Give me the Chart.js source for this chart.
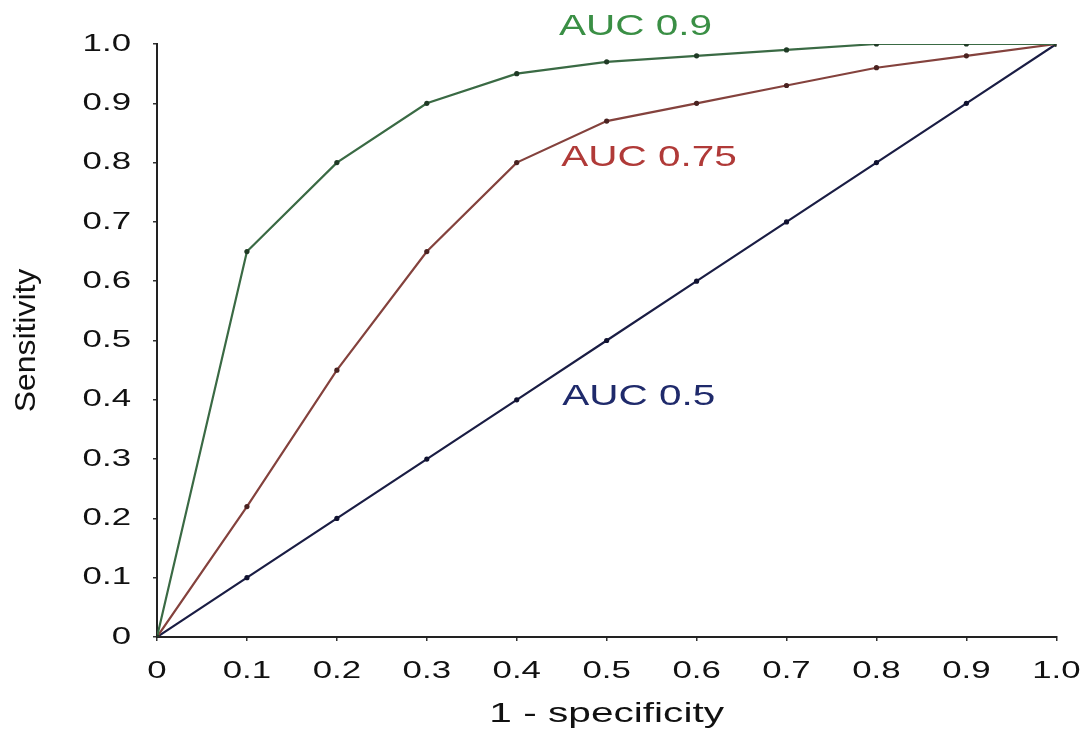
<!DOCTYPE html>
<html>
<head>
<meta charset="utf-8">
<script src="https://cdn.jsdelivr.net/npm/chart.js@4/dist/chart.umd.min.js"></script>
<style>
html,body{margin:0;padding:0;background:#fff;}
#c{display:block;}
</style>
</head>
<body>
<canvas id="c" width="1089" height="738"></canvas>
<script>
// ---- data ----
const fpr = [0, 0.1, 0.2, 0.3, 0.4, 0.5, 0.6, 0.7, 0.8, 0.9, 1.0];
const sensAUC90 = [0, 0.65, 0.80, 0.90, 0.95, 0.97, 0.98, 0.99, 1.0, 1.0, 1.0];
const sensAUC75 = [0, 0.22, 0.45, 0.65, 0.80, 0.87, 0.90, 0.93, 0.96, 0.98, 1.0];
const sensAUC50 = [0, 0.1, 0.2, 0.3, 0.4, 0.5, 0.6, 0.7, 0.8, 0.9, 1.0];
const seriesNames = ['AUC 0.9', 'AUC 0.75', 'AUC 0.5'];
const xTitle = '1 - specificity';
const yTitle = 'Sensitivity';

const canvas = document.getElementById('c');
const ctx = canvas.getContext('2d');
// horizontal text stretch (reference text is drawn wide)
ctx.textStretch = 1.45;
ctx.textStretchRot = 1.1;
const protoFill = CanvasRenderingContext2D.prototype.fillText;
ctx.fillText = function(text, x, y, maxWidth) {
  const t = this.getTransform();
  const rotated = Math.abs(t.b) > 0.5;
  const sx = rotated ? this.textStretchRot : this.textStretch;
  this.save();
  this.translate(x, y);
  this.scale(sx, 1);
  if (maxWidth !== undefined) protoFill.call(this, text, 0, 0, maxWidth / sx);
  else protoFill.call(this, text, 0, 0);
  this.restore();
};

function pts(ys) { return fpr.map((x, i) => ({x: x, y: ys[i]})); }

const fmt = v => (Math.abs(v) < 1e-9 ? '0' : Number(v).toFixed(1));

const labelPlugin = {
  id: 'aucLabels',
  afterDraw(chart, args, opts) {
    const c = chart.ctx, xs = chart.scales.x, ys = chart.scales.y;
    c.save();
    const prev = c.textStretch;
    c.textStretch = opts.stretch;
    c.font = opts.font;
    c.textAlign = 'left';
    c.textBaseline = 'middle';
    opts.items.forEach(it => {
      c.fillStyle = it.color;
      c.fillText(it.text, xs.getPixelForValue(it.x), ys.getPixelForValue(it.y));
    });
    c.textStretch = prev;
    c.restore();
  }
};

const tickFont = {family: "'Liberation Sans', Arial, Helvetica, sans-serif", size: 24};

new Chart(ctx, {
  type: 'scatter',
  data: {
    datasets: [
      {label: seriesNames[0], data: pts(sensAUC90), showLine: true, borderColor: '#3a6a44', borderWidth: 2.2,
       pointRadius: 2.6, pointBackgroundColor: '#1f3a25', pointBorderWidth: 0},
      {label: seriesNames[1], data: pts(sensAUC75), showLine: true, borderColor: '#84423d', borderWidth: 2.2,
       pointRadius: 2.6, pointBackgroundColor: '#4a2220', pointBorderWidth: 0},
      {label: seriesNames[2], data: pts(sensAUC50), showLine: true, borderColor: '#1a1d44', borderWidth: 2.2,
       pointRadius: 2.6, pointBackgroundColor: '#101230', pointBorderWidth: 0}
    ]
  },
  options: {
    responsive: false,
    animation: false,
    devicePixelRatio: 1,
    layout: {padding: {top: 44, right: 31, left: 0, bottom: 0}},
    plugins: {
      legend: {display: false},
      tooltip: {enabled: false},
      aucLabels: {
        font: "30px 'Liberation Sans', Arial, sans-serif",
        stretch: 1.35,
        items: [
          {text: seriesNames[0], x: 0.447, y: 1.029, color: '#3a8f45'},
          {text: seriesNames[1], x: 0.4495, y: 0.809, color: '#b03a38'},
          {text: seriesNames[2], x: 0.4506, y: 0.406, color: '#1f2a6b'}
        ]
      }
    },
    scales: {
      x: {
        type: 'linear', min: 0, max: 1,
        afterFit(s) { s.height = 101; },
        ticks: {stepSize: 0.1, callback: fmt, color: '#111', font: tickFont, padding: 16, maxRotation: 0, autoSkip: false},
        grid: {display: true, drawOnChartArea: false, drawTicks: true, tickLength: 4, color: '#333', lineWidth: 1.5},
        border: {display: true, color: '#222', width: 2},
        title: {display: true, text: xTitle, color: '#111',
                font: {family: "'Liberation Sans', Arial, sans-serif", size: 28},
                padding: {top: 0, bottom: 7}}
      },
      y: {
        type: 'linear', min: 0, max: 1,
        afterFit(s) { s.width = 157; },
        ticks: {stepSize: 0.1, callback: fmt, color: '#111', font: tickFont, padding: 22, autoSkip: false},
        grid: {display: true, drawOnChartArea: false, drawTicks: true, tickLength: 4, color: '#333', lineWidth: 1.5},
        border: {display: true, color: '#222', width: 2},
        title: {display: true, text: yTitle, color: '#111',
                font: {family: "'Liberation Sans', Arial, sans-serif", size: 29},
                padding: {top: 10, bottom: 0}}
      }
    }
  },
  plugins: [labelPlugin]
});
</script>
</body>
</html>
